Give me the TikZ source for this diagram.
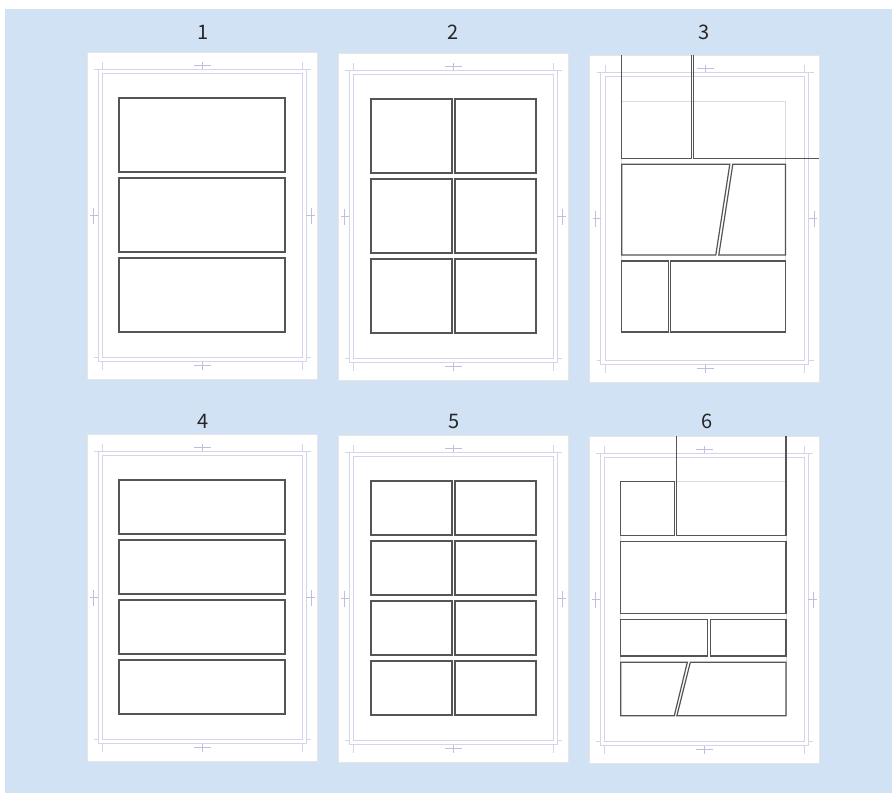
\documentclass[tikz,border=0pt]{standalone}
\usepackage{fontspec}
\newfontfamily\numfont{Noto Sans CJK JP}
\definecolor{bgblue}{RGB}{210,226,245}
\definecolor{guide}{RGB}{212,212,234}
\definecolor{guidedark}{RGB}{190,190,226}
\definecolor{panelc}{RGB}{85,85,85}
\definecolor{areac}{RGB}{218,218,224}
\tikzset{
  pagebox/.style={fill=white, draw=black!10, line width=0.8pt},
  guideline/.style={draw=guide, line width=0.8pt},
  crossline/.style={draw=guidedark, line width=0.8pt},
  panel/.style={draw=panelc, line width=1.2pt, line join=miter},
  area/.style={draw=areac, line width=0.8pt},
  pnum/.style={font=\numfont\fontsize{20}{24}\selectfont, text=black!85, inner sep=0pt}
}
\newcommand{\guides}{%
  \draw[pagebox] (0,0) rectangle (230,327);
  \draw[guideline] (11.3,17.3) rectangle (219,309.7);
  \draw[guideline] (15.5,21.7) rectangle (215.3,305.3);
  \draw[guideline] (7.3,17.3) -- (11.3,17.3) (219,17.3) -- (224,17.3);
  \draw[guideline] (7.3,305.3) -- (11.3,305.3) (219,305.3) -- (224,305.3);
  \draw[guideline] (15.5,9.7) -- (15.5,17.3) (215.3,9.7) -- (215.3,17.3);
  \draw[guideline] (15.5,309.7) -- (15.5,318) (215.3,309.7) -- (215.3,318);
  \draw[crossline] (107,13.7) -- (124,13.7) (115.5,9.7) -- (115.5,17.3);
  \draw[crossline] (107,313.7) -- (124,313.7) (115.5,309.7) -- (115.5,318);
  \draw[crossline] (3,163.5) -- (11.3,163.5) (6,155.5) -- (6,171.5);
  \draw[crossline] (219,163.5) -- (227.5,163.5) (224.5,155.5) -- (224.5,171.5);
}
\begin{document}
\begin{tikzpicture}[x=1pt,y=-1pt]
\useasboundingbox (0,0) rectangle (892,793);
\fill[white] (0,0) rectangle (892,793);
\fill[bgblue] (5,9) rectangle (892,793);

% page numbers
\node[pnum] (n1) at (203,32) {1};
\node[pnum] (n2) at (453,32) {2};
\node[pnum] (n3) at (704,32) {3};
\node[pnum] (n4) at (203,421) {4};
\node[pnum] (n5) at (454,421) {5};
\node[pnum] (n6) at (707,421) {6};

% page 1
\begin{scope}[shift={(87,52)}]
  \guides
  \draw[panel] (32,46) rectangle (198,120);
  \draw[panel] (32,126) rectangle (198,200);
  \draw[panel] (32,206) rectangle (198,280);
\end{scope}

% page 2
\begin{scope}[shift={(338,53)}]
  \guides
  \draw[panel] (33,46) rectangle (114,120);
  \draw[panel] (117,46) rectangle (198,120);
  \draw[panel] (33,126) rectangle (114,200);
  \draw[panel] (117,126) rectangle (198,200);
  \draw[panel] (33,206) rectangle (114,280);
  \draw[panel] (117,206) rectangle (198,280);
\end{scope}

% page 3
\begin{scope}[shift={(589.5,55)}]
  \guides
  \draw[area] (32.3,46.3) rectangle (196,277);
  \draw[panel] (32.3,0) -- (32.3,103.3) -- (101.7,103.3) -- (101.7,0);
  \draw[panel] (104,0) -- (104,103.3) -- (229.5,103.3);
  \draw[panel] (32.3,109.3) -- (140.3,109.3) -- (126.3,200) -- (32.3,200) -- cycle;
  \draw[panel] (143.3,109.3) -- (196,109.3) -- (196,200) -- (129.3,200) -- cycle;
  \draw[panel] (32.3,206) rectangle (79,277);
  \draw[panel] (81,206) rectangle (196,277);
\end{scope}

% page 4
\begin{scope}[shift={(87,434)}]
  \guides
  \draw[panel] (32,46) rectangle (198,100);
  \draw[panel] (32,106) rectangle (198,160);
  \draw[panel] (32,166) rectangle (198,220);
  \draw[panel] (32,226) rectangle (198,280);
\end{scope}

% page 5
\begin{scope}[shift={(338,435)}]
  \guides
  \foreach \t in {46,106,166,226}{
    \draw[panel] (33,\t) rectangle (114,\t+54);
    \draw[panel] (117,\t) rectangle (198,\t+54);
  }
\end{scope}

% page 6
\begin{scope}[shift={(589,436)}]
  \guides
  \draw[area] (31.7,45.7) rectangle (197,279.7);
  \draw[panel] (31.7,45.7) rectangle (85.7,99.3);
  \draw[panel] (87.7,0) -- (87.7,99.3) -- (197,99.3) -- (197,0);
  \draw[panel] (31.7,105.7) rectangle (197,177.3);
  \draw[panel] (31.7,183.7) rectangle (118.7,220);
  \draw[panel] (121.3,183.7) rectangle (197,220);
  \draw[panel] (31.7,226.3) -- (98.3,226.3) -- (85.3,279.7) -- (31.7,279.7) -- cycle;
  \draw[panel] (101.3,226.3) -- (197,226.3) -- (197,279.7) -- (87.9,279.7) -- cycle;
\end{scope}
\end{tikzpicture}
\end{document}
